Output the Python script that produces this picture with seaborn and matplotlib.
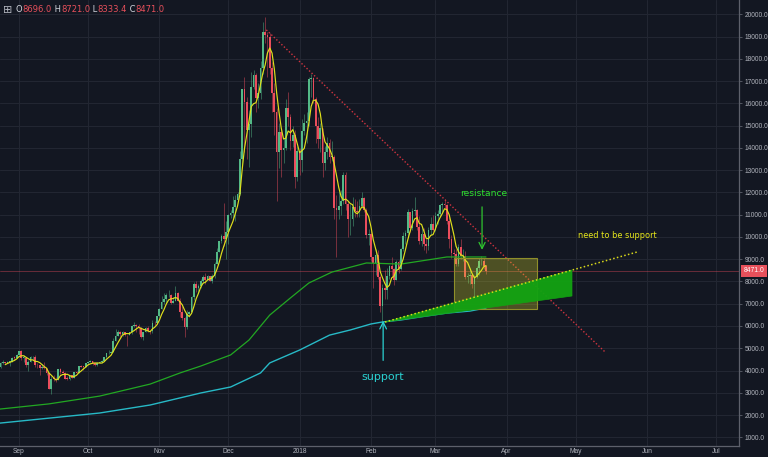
import numpy as np
import pandas as pd
import matplotlib
matplotlib.use("Agg")
import matplotlib.pyplot as plt
import matplotlib.transforms as mtransforms
from matplotlib.patches import Rectangle, Polygon
import seaborn as sns

# ---------------- data (BTCUSD daily, Aug 22 2017 -> Mar 23 2018) ----------------
# x = day offset from 2017-09-01
start_day = -10
first_open = 4001

closes = [
    # Aug 22-31
    4100, 4151, 4334, 4371, 4352, 4382, 4382, 4579, 4565, 4703,
    # Sep
    4892, 4578, 4582, 4236, 4376, 4597, 4599, 4229, 4226, 4122, 4161, 4130, 3882, 3154, 3637,
    3625, 3582, 4065, 3924, 3905, 3631, 3630, 3792, 3682, 3926, 3892, 4200, 4174, 4163, 4338,
    # Oct
    4403, 4409, 4317, 4229, 4328, 4370, 4426, 4611, 4772, 4781, 4826, 5325, 5563, 5739, 5648,
    5712, 5605, 5590, 5708, 6011, 6031, 6008, 5930, 5526, 5750, 5904, 5780, 5753, 6153, 6130, 6468,
    # Nov
    6767, 7078, 7207, 7379, 7407, 7022, 7144, 7459, 7143, 6618, 6357, 5950, 6559, 6635, 7315,
    7871, 7708, 7790, 8036, 8200, 8072, 8253, 8038, 8253, 8790, 9330, 9818, 10058, 9888, 10233,
    # Dec
    10975, 11074, 11323, 11657, 11916, 13500, 16650, 16050, 14800, 15060, 16730, 17290, 16250, 16460, 17600,
    19200, 19080, 18960, 17600, 16450, 15600, 13800, 14700, 13900, 13990, 15800, 15400, 14300, 14600, 12700, 13880,
    # Jan
    13440, 14750, 15100, 15200, 17100, 17150, 16200, 14980, 14400, 14900, 13300, 13800, 14200, 13600, 13600,
    11300, 11200, 11400, 11600, 12800, 11500, 10800, 10800, 11350, 11150, 11100, 11400, 11750, 11200, 10100, 10150,
    # Feb
    9100, 8850, 9200, 8200, 6900, 7700, 7600, 8250, 8690, 8550, 8080, 8880, 8550, 9480,
    10050, 10170, 11100, 10400, 11150, 11220, 10450, 9830, 10150, 9670, 9600, 10330, 10600, 10330,
    # Mar 1-23
    10920, 11020, 11440, 11500, 11450, 10710, 9900, 9300, 9230, 8780, 9530, 9130, 9150, 8200, 8260,
    8270, 7870, 8200, 8600, 8900, 8900, 8696, 8471,
]

highs = [
    4120, 4255, 4371, 4453, 4379, 4406, 4394, 4626, 4647, 4745,
    4892, 4939, 4714, 4582, 4493, 4655, 4667, 4681, 4319, 4245, 4309, 4394, 4130, 3921, 3733,
    3808, 3690, 4079, 4123, 4032, 3916, 3758, 3819, 3792, 3950, 3969, 4210, 4262, 4220, 4358,
    4403, 4471, 4432, 4352, 4362, 4415, 4459, 4626, 4787, 4923, 4881, 5446, 5857, 5837, 5784,
    5776, 5745, 5605, 5709, 6061, 6187, 6075, 6070, 5935, 5747, 5970, 6000, 5841, 6255, 6214, 6470,
    6804, 7367, 7461, 7492, 7601, 7445, 7283, 7776, 7506, 7236, 6886, 6418, 6731, 6695, 7330,
    7964, 8004, 7884, 8101, 8303, 8372, 8302, 8267, 8336, 8853, 9522, 9818, 10125, 11517, 10697,
    11046, 11190, 11858, 11900, 12032, 13850, 16666, 17170, 16300, 15700, 17400, 17500, 17350, 16900, 17900,
    19650, 19891, 19200, 19150, 17850, 16900, 15800, 15100, 14900, 14450, 16200, 16500, 15500, 15000, 14800, 14100,
    14000, 15300, 15500, 15600, 17200, 17300, 17200, 16300, 15400, 15100, 14900, 14100, 14500, 14400, 14300,
    13700, 11900, 12000, 12100, 12900, 12900, 11600, 11500, 11800, 11700, 11600, 11700, 12000, 11800, 11300, 10350,
    10250, 9100, 9450, 9400, 8300, 7900, 8500, 8600, 8750, 9100, 8600, 8950, 8950, 9500,
    10200, 10300, 11250, 11100, 11300, 11790, 11250, 10950, 10450, 10400, 9950, 10450, 10900, 11000,
    11100, 11200, 11500, 11550, 11700, 11480, 10900, 10100, 9450, 9450, 9700, 9900, 9480, 9350, 8400,
    8600, 8350, 8300, 8700, 9050, 9150, 9050, 8721,
]

lows = [
    3600, 4075, 4111, 4307, 4282, 4320, 4193, 4360, 4469, 4555,
    4678, 4470, 4360, 4136, 3970, 4376, 4486, 4150, 4123, 3816, 4083, 4081, 3789, 3153, 2947,
    3507, 3476, 3582, 3852, 3868, 3614, 3553, 3594, 3658, 3682, 3869, 3884, 4154, 4032, 4160,
    4269, 4377, 4258, 4210, 4207, 4318, 4339, 4426, 4569, 4738, 4769, 4822, 5325, 5563, 5451,
    5560, 5550, 5109, 5574, 5628, 5949, 5733, 5631, 5450, 5392, 5748, 5734, 5636, 5684, 6030, 6103,
    6400, 6758, 7002, 7031, 7319, 7007, 7022, 7114, 7101, 6423, 6281, 5507, 5844, 6423, 6635,
    7176, 7541, 7463, 7694, 7939, 7870, 8075, 8038, 7950, 8174, 8775, 9316, 9736, 9601, 9022,
    9694, 10830, 10862, 10715, 11604, 11900, 13150, 13800, 13500, 13150, 14500, 16650, 15600, 15800, 16200,
    17300, 18700, 17200, 17300, 15600, 14600, 11600, 13100, 12700, 13300, 13900, 15000, 13900, 14050, 12200, 12500,
    12800, 12900, 14600, 14200, 15000, 16300, 16000, 14200, 14000, 13800, 12700, 13000, 13500, 13300, 13400,
    10800, 9100, 10800, 11000, 11500, 11200, 10000, 10100, 10500, 10900, 10900, 10900, 11300, 11100, 9950, 9650,
    8900, 7700, 8300, 8100, 6650, 6100, 7200, 7200, 8100, 8200, 7850, 8050, 8400, 8500,
    9350, 9700, 10000, 10200, 10300, 11000, 10300, 9700, 9600, 9400, 9300, 9400, 10100, 10250,
    10250, 10600, 10900, 11100, 11300, 10600, 9500, 9050, 8350, 8700, 8700, 9000, 8900, 8100, 7950,
    7900, 7700, 7300, 8150, 8300, 8750, 8550, 8333.4,
]

# long moving averages
green_days = [-9, 13, 35, 57, 70, 79, 92, 100, 109, 118, 126, 136, 151, 166, 186, 203]
green_vals = [2260, 2500, 2850, 3390, 3890, 4200, 4700, 5370, 6490, 7260, 7930, 8420, 8830, 8780, 9100, 9100]
cyan_days = [-9, 35, 57, 79, 92, 105, 109, 122, 135, 144, 153, 158, 166, 174, 186, 196, 203]
cyan_vals = [1630, 2090, 2450, 2990, 3260, 3890, 4340, 4920, 5590, 5820, 6090, 6180, 6270, 6400, 6580, 6670, 6810]

month_ticks = [0, 30, 61, 91, 122, 153, 181, 212, 242, 273, 303]
month_labels = ["Sep", "Oct", "Nov", "Dec", "2018", "Feb", "Mar", "Apr", "May", "Jun", "Jul"]
price_ticks = list(range(1000, 20001, 1000))

last_ohlc = {"O": "8696.0", "H": "8721.0", "L": "8333.4", "C": "8471.0"}
last_close = 8471.0

# ---------------- style ----------------
BG = "#131722"
GRID = "#222632"
AXIS = "#5d606b"
TXT = "#b2b5be"
UP = "#53b987"
DOWN = "#eb4d5c"

sns.set_theme(style="dark")
plt.rcParams["font.family"] = ["DejaVu Sans"]

df = pd.DataFrame({
    "day": np.arange(start_day, start_day + len(closes)),
    "open": [first_open] + closes[:-1],
    "high": highs,
    "low": lows,
    "close": closes,
})
df["sma5"] = df["close"].rolling(5).mean()

fig = plt.figure(figsize=(7.68, 4.57), dpi=100, facecolor=BG)
ax = fig.add_axes([0, 11 / 457, 739 / 768, 446 / 457])
ax.set_facecolor(BG)

ax.set_xlim(-8.26, 313.0)
ax.set_ylim(609, 20642)

# grid
ax.set_axisbelow(True)
ax.grid(True, color=GRID, lw=0.8)
for s in ["top", "left"]:
    ax.spines[s].set_visible(False)
for s in ["right", "bottom"]:
    ax.spines[s].set_color(AXIS)
    ax.spines[s].set_linewidth(0.9)

ax.yaxis.tick_right()
ax.set_yticks(price_ticks)
ax.set_yticklabels([f"{v:.1f}" for v in price_ticks], fontfamily="Liberation Sans")
ax.set_xticks(month_ticks)
ax.set_xticklabels(month_labels, fontfamily="Liberation Sans")
ax.tick_params(axis="y", colors=AXIS, labelcolor=TXT, labelsize=4.8, length=2, width=0.6, pad=2)
ax.tick_params(axis="x", colors=AXIS, labelcolor=TXT, labelsize=4.8, length=0, pad=1.2)

# current price line
ax.axhline(last_close, color=DOWN, lw=0.6, alpha=0.45, zorder=1)

# candles
up = df["close"] >= df["open"]
cols = np.where(up, UP, DOWN)
ax.vlines(df["day"], df["low"], df["high"], colors=cols, lw=0.6, alpha=0.55, zorder=2)
body_lo = np.minimum(df["open"], df["close"])
body_h = np.maximum(np.abs(df["close"] - df["open"]), 25)
ax.bar(df["day"], body_h, bottom=body_lo, width=0.74, color=cols, linewidth=0, zorder=3)

# moving averages
sns.lineplot(x=green_days, y=green_vals, ax=ax, color="#22a822", lw=0.9, zorder=4)
sns.lineplot(x=cyan_days, y=cyan_vals, ax=ax, color="#27b9c6", lw=1.0, zorder=4)
sns.lineplot(data=df, x="day", y="sma5", ax=ax, color="#e0e01b", lw=0.85, zorder=5)
ax.set_xlabel("")
ax.set_ylabel("")

# resistance trend line (dotted red)
ax.plot([107.5, 254.8], [19300, 4830], color="#d0343f", lw=1.0, ls=(0, (1, 1.5)), zorder=6)

# yellow zone
ax.add_patch(Rectangle((189.1, 6762), 225.2 - 189.1, 9053 - 6762, facecolor="#e6e62a", alpha=0.28,
                       edgecolor="none", zorder=6))
ax.add_patch(Rectangle((189.1, 6762), 225.2 - 189.1, 9053 - 6762, facecolor="none",
                       edgecolor="#8f8f2a", lw=0.8, zorder=6))

# green support wedge
ax.add_patch(Polygon([(159.1, 6178), (240.4, 8514), (240.4, 7346)], closed=True,
                     facecolor="#12a312", edgecolor="#12a312", lw=0.5, alpha=0.95, zorder=7))
ax.plot([159.1, 268.7], [6178, 9322], color="#d8d81a", lw=1.1, ls=(0, (1, 1.5)), zorder=8)

# annotations
ax.text(202.2, 11973, "resistance", color="#2fe02f", fontsize=6.6, ha="center", va="center", zorder=9)
ax.annotate("", xy=(201.3, 9418), xytext=(201.3, 11349),
            arrowprops=dict(arrowstyle="->", color="#2fc42f", lw=0.9, shrinkA=0, shrinkB=0,
                            mutation_scale=11), zorder=9)
ax.text(260, 10086, "need to be support", color="#e8e81a", fontsize=5.9, ha="center", va="center", zorder=9)
ax.annotate("", xy=(158.3, 6230), xytext=(158.3, 4455),
            arrowprops=dict(arrowstyle="->", color="#2ad1d1", lw=0.9, shrinkA=0, shrinkB=0,
                            mutation_scale=12), zorder=9)
ax.text(158.3, 3707, "support", color="#2ad1d1", fontsize=8, ha="center", va="center", zorder=9)

# last price tag on the axis
trans = mtransforms.blended_transform_factory(ax.transAxes, ax.transData)
ax.text(1.006, last_close, f"{last_close:.1f}", transform=trans, color="white", fontsize=4.9,
        fontfamily="Liberation Sans", ha="left", va="center", clip_on=False, zorder=10,
        bbox=dict(boxstyle="square,pad=0.35", fc="#e8505b", ec="none"))

# OHLC header
fig.text(3 / 768, 1 - 10 / 457, "\u229e", color=TXT, fontsize=8, ha="left", va="center")
prev = fig.text(16 / 768, 1 - 10 / 457, "O", color="#d1d4dc", fontsize=6.0, ha="left", va="center")
pieces = [(last_ohlc["O"], "#e8505b"), (" H", "#d1d4dc"), (last_ohlc["H"], "#e8505b"),
          (" L", "#d1d4dc"), (last_ohlc["L"], "#e8505b"), (" C", "#d1d4dc"), (last_ohlc["C"], "#e8505b")]
for s, c in pieces:
    prev = ax.annotate(s, xy=(1, 0.5), xycoords=prev, ha="left", va="center", color=c,
                       fontsize=6.0, annotation_clip=False)

fig.savefig("out.png", dpi=100, facecolor=BG)
